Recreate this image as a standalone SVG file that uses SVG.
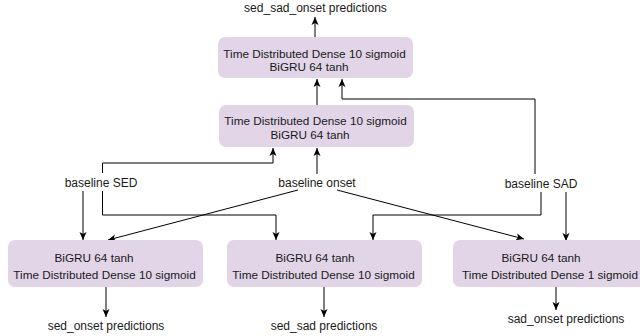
<svg xmlns="http://www.w3.org/2000/svg" width="640" height="336" viewBox="0 0 640 336">
<defs>
<marker id="arr" markerUnits="userSpaceOnUse" markerWidth="10" markerHeight="10" viewBox="0 0 10 10" refX="8" refY="5" orient="auto">
<path d="M0,1.5 L8,5 L0,8.5 L2,5 Z" fill="#000"/>
</marker>
<style>
.box{fill:#e1d5e7;stroke:none}
.t{font-family:"Liberation Sans",Arial,Helvetica,sans-serif;font-size:12px;fill:#1a1a1a;text-anchor:middle}
.b{font-size:11.75px}
.c{fill:none;stroke:#000;stroke-width:1;marker-end:url(#arr)}
</style>
</defs>
<rect width="640" height="336" fill="#fff"/>
<g id="connectors">
<path class="c" d="M315,37 V17"/>
<path class="c" d="M317,105 V79"/>
<path class="c" d="M535,174 V99 H342 V79"/>
<path class="c" d="M102.5,173 V163 H273 V148"/>
<path class="c" d="M317,174 V148"/>
<path class="c" d="M83,191 V240"/>
<path class="c" d="M102.5,191 V215 H276 V240"/>
<path class="c" d="M298,190 L108,240"/>
<path class="c" d="M337,190 L524,239"/>
<path class="c" d="M541,192 V215 H373 V240"/>
<path class="c" d="M566,192 V241"/>
<path class="c" d="M106,287 V317"/>
<path class="c" d="M324,287 V317"/>
<path class="c" d="M556,287 V310"/>
</g>
<g id="label-top"><text class="t" x="315.5" y="12">sed_sad_onset predictions</text></g>
<g id="box-top">
<rect class="box" x="218" y="37" width="195" height="41" rx="7"/>
<text class="t b" x="314.5" y="58">Time Distributed Dense 10 sigmoid</text>
<text class="t b" x="309" y="71">BiGRU 64 tanh</text>
</g>
<g id="box-mid">
<rect class="box" x="219" y="105" width="195" height="42" rx="7"/>
<text class="t b" x="315.5" y="125">Time Distributed Dense 10 sigmoid</text>
<text class="t b" x="310" y="139">BiGRU 64 tanh</text>
</g>
<g id="baseline-sed"><text class="t" x="101" y="187">baseline SED</text></g>
<g id="baseline-onset"><text class="t" x="317" y="187">baseline onset</text></g>
<g id="baseline-sad"><text class="t" x="541" y="188">baseline SAD</text></g>
<g id="box-left">
<rect class="box" x="8" y="240" width="195" height="47" rx="7"/>
<text class="t b" x="94" y="262">BiGRU 64 tanh</text>
<text class="t b" x="104.5" y="279">Time Distributed Dense 10 sigmoid</text>
</g>
<g id="box-center">
<rect class="box" x="227" y="240" width="195" height="47" rx="7"/>
<text class="t b" x="315" y="262">BiGRU 64 tanh</text>
<text class="t b" x="323.5" y="279">Time Distributed Dense 10 sigmoid</text>
</g>
<g id="box-right">
<rect class="box" x="453" y="240" width="195" height="47" rx="7"/>
<text class="t b" x="541" y="262">BiGRU 64 tanh</text>
<text class="t b" x="550" y="279">Time Distributed Dense 1 sigmoid</text>
</g>
<g id="label-sed-onset"><text class="t" x="106" y="330">sed_onset predictions</text></g>
<g id="label-sed-sad"><text class="t" x="324" y="330">sed_sad predictions</text></g>
<g id="label-sad-onset"><text class="t" x="566" y="323">sad_onset predictions</text></g>
</svg>
